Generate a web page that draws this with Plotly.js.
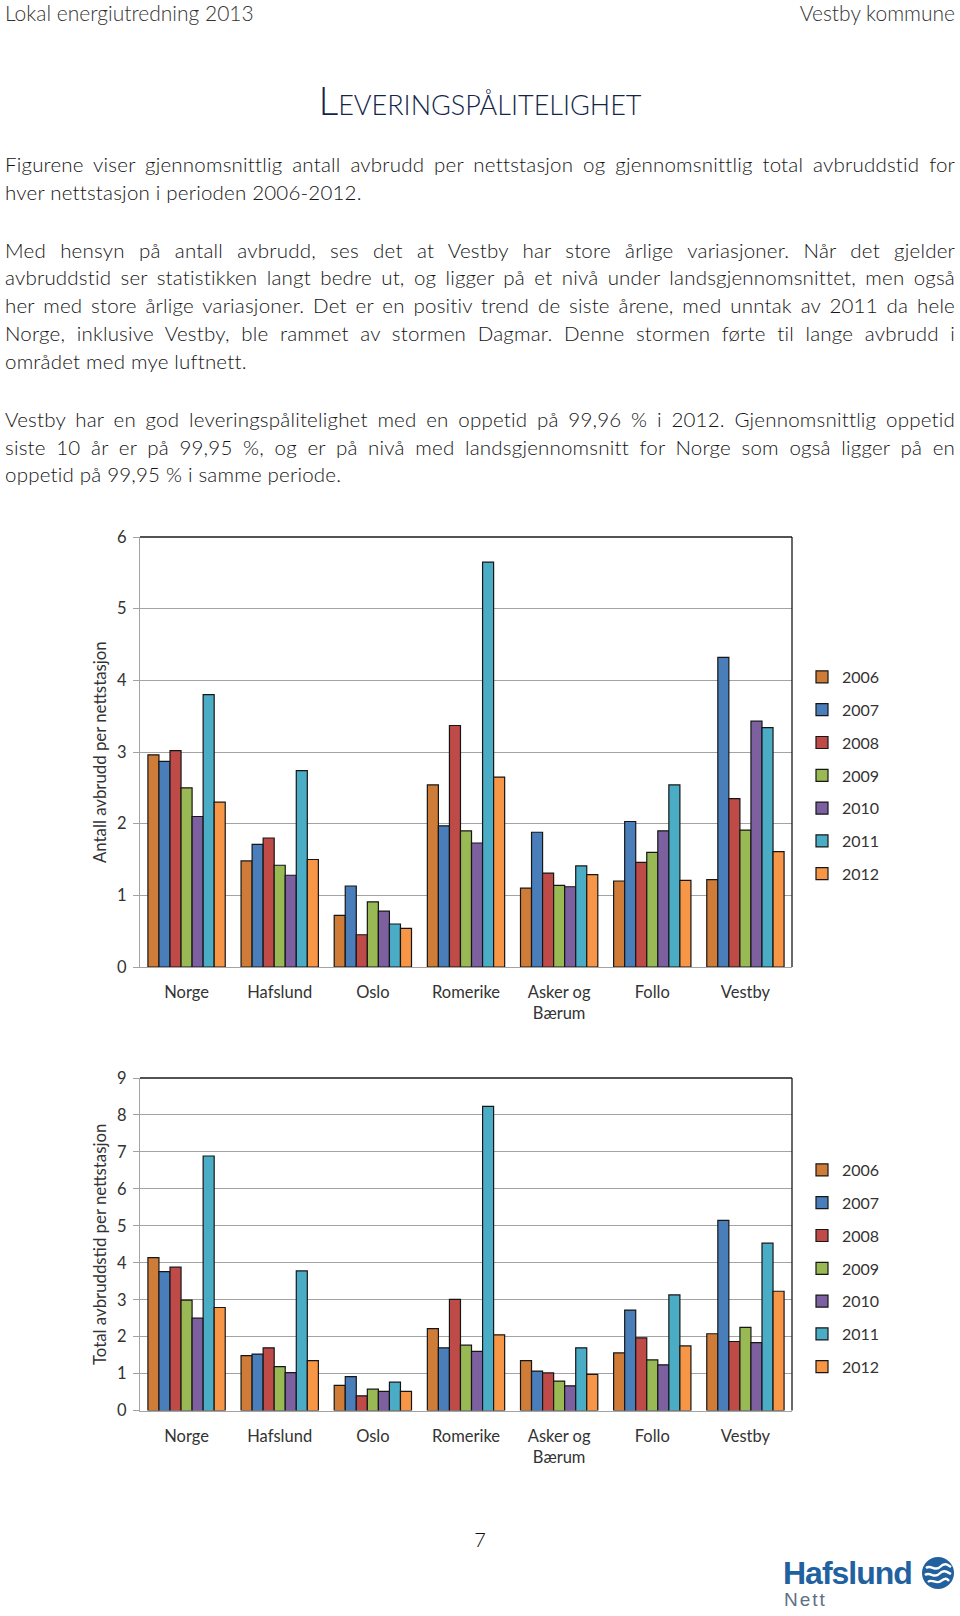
<!DOCTYPE html>
<html><head><meta charset="utf-8">
<script src="https://cdn.plot.ly/plotly-3.0.1.min.js"></script>
<style>
html,body{margin:0;padding:0;background:#fff;}
body{width:960px;height:1616px;position:relative;overflow:hidden;font-family:Lato,"Open Sans",sans-serif;color:#141414;}
#plot{position:absolute;left:0;top:0;width:960px;height:1616px;}
.abs{position:absolute;}
.hdr{top:0;font-size:21px;line-height:25px;color:#333;font-weight:300;}
.title{left:0;width:960px;top:77px;text-align:center;font-size:39px;line-height:46px;font-variant:small-caps;color:#14254a;font-weight:300;}
.para{left:5px;width:950px;font-size:20.5px;line-height:27.8px;letter-spacing:0.2px;font-weight:300;}
.j{text-align:justify;text-align-last:justify;white-space:nowrap;}
.pg{left:0;width:960px;text-align:center;top:1526px;font-size:20px;line-height:26px;color:#141414;font-weight:300;}
.logo{left:783px;top:1555px;font-family:"Liberation Sans",Arial,sans-serif;font-weight:bold;font-size:32px;line-height:36px;color:#22619f;letter-spacing:-1px;}
.nett{left:784px;top:1589px;font-family:"Liberation Sans",Arial,sans-serif;font-size:19px;line-height:22px;color:#5d7087;letter-spacing:2px;}
</style>
</head>
<body>
<div id="plot"></div>
<div class="abs hdr" style="left:5px;">Lokal energiutredning 2013</div>
<div class="abs hdr" style="right:5px;">Vestby kommune</div>
<div class="abs title">Leveringspålitelighet</div>

<div class="abs para" style="top:151px;">
<div class="j">Figurene viser gjennomsnittlig antall avbrudd per nettstasjon og gjennomsnittlig total avbruddstid for</div>
<div>hver nettstasjon i perioden 2006-2012.</div>
</div>
<div class="abs para" style="top:236.7px;">
<div class="j">Med hensyn på antall avbrudd, ses det at Vestby har store årlige variasjoner. Når det gjelder</div>
<div class="j">avbruddstid ser statistikken langt bedre ut, og ligger på et nivå under landsgjennomsnittet, men også</div>
<div class="j">her med store årlige variasjoner. Det er en positiv trend de siste årene, med unntak av 2011 da hele</div>
<div class="j">Norge, inklusive Vestby, ble rammet av stormen Dagmar. Denne stormen førte til lange avbrudd i</div>
<div>området med mye luftnett.</div>
</div>
<div class="abs para" style="top:405.8px;">
<div class="j">Vestby har en god leveringspålitelighet med en oppetid på 99,96 % i 2012. Gjennomsnittlig oppetid</div>
<div class="j">siste 10 år er på 99,95 %, og er på nivå med landsgjennomsnitt for Norge som også ligger på en</div>
<div>oppetid på 99,95 % i samme periode.</div>
</div>

<div class="abs pg">7</div>
<div class="abs logo">Hafslund</div>
<div class="abs nett">Nett</div>
<svg class="abs" style="left:921px;top:1556px;" width="34" height="34" viewBox="0 0 34 34">
<circle cx="17" cy="17" r="16" fill="#22619f"/>
<path d="M5 12 C10 8,14 16,19 11 S27 9,30 11" stroke="#fff" stroke-width="2.4" fill="none"/>
<path d="M4 19 C9 15,13 23,18 18 S26 16,30 18" stroke="#fff" stroke-width="2.4" fill="none"/>
<path d="M7 26 C11 22,15 29,20 25 S26 23,28 25" stroke="#fff" stroke-width="2.4" fill="none"/>
</svg>

<script>
// ---- data ----
const categories = ['Norge', 'Hafslund', 'Oslo', 'Romerike', 'Asker og<br>Bærum', 'Follo', 'Vestby'];
const years = ['2006', '2007', '2008', '2009', '2010', '2011', '2012'];
const yearColors = ['#cf7c38', '#4a7ebb', '#be4b48', '#98b954', '#7d60a0', '#4bacc6', '#f79646'];

// Antall avbrudd per nettstasjon
const antall2006 = [2.96, 1.48, 0.72, 2.54, 1.10, 1.20, 1.22];
const antall2007 = [2.87, 1.71, 1.13, 1.97, 1.88, 2.03, 4.32];
const antall2008 = [3.02, 1.80, 0.45, 3.37, 1.31, 1.46, 2.35];
const antall2009 = [2.50, 1.42, 0.91, 1.90, 1.14, 1.60, 1.91];
const antall2010 = [2.10, 1.28, 0.78, 1.73, 1.12, 1.90, 3.43];
const antall2011 = [3.80, 2.74, 0.60, 5.65, 1.41, 2.54, 3.34];
const antall2012 = [2.30, 1.50, 0.54, 2.65, 1.29, 1.21, 1.61];

// Total avbruddstid per nettstasjon
const tid2006 = [4.14, 1.49, 0.68, 2.22, 1.35, 1.56, 2.08];
const tid2007 = [3.76, 1.53, 0.92, 1.70, 1.07, 2.72, 5.15];
const tid2008 = [3.88, 1.70, 0.40, 3.01, 1.02, 1.97, 1.87];
const tid2009 = [2.99, 1.19, 0.58, 1.77, 0.80, 1.37, 2.25];
const tid2010 = [2.50, 1.03, 0.52, 1.60, 0.67, 1.24, 1.84];
const tid2011 = [6.89, 3.78, 0.77, 8.23, 1.70, 3.13, 4.53];
const tid2012 = [2.79, 1.35, 0.52, 2.05, 0.98, 1.75, 3.23];

const antallSeries = [antall2006, antall2007, antall2008, antall2009, antall2010, antall2011, antall2012];
const tidSeries = [tid2006, tid2007, tid2008, tid2009, tid2010, tid2011, tid2012];

// ---- figure ----
const W = 960, H = 1616;
const px = v => v / W;
const py = v => 1 - v / H;
const FONT = 'Lato, "Open Sans", sans-serif';
const TXT = '#333333';
const GRID = '#a3a3a3';

const traces = [];
years.forEach((yr, i) => {
  traces.push({
    type: 'bar', name: yr, x: categories, y: antallSeries[i],
    xaxis: 'x', yaxis: 'y', legend: 'legend', legendgroup: 'a' + yr,
    marker: {color: yearColors[i], line: {color: '#161616', width: 1.2}},
    hoverinfo: 'x+y+name'
  });
});
years.forEach((yr, i) => {
  traces.push({
    type: 'bar', name: yr, x: categories, y: tidSeries[i],
    xaxis: 'x2', yaxis: 'y2', legend: 'legend2', legendgroup: 't' + yr,
    marker: {color: yearColors[i], line: {color: '#161616', width: 1.2}},
    hoverinfo: 'x+y+name'
  });
});

const xCommon = {
  type: 'category', domain: [px(140), px(792)], showline: true, linecolor: GRID, linewidth: 1.3,
  ticks: '', showgrid: false, zeroline: false, ticklabelstandoff: 10,
  tickfont: {family: FONT, size: 16.5, color: TXT}, fixedrange: true
};
const yCommon = {
  showline: true, linecolor: GRID, linewidth: 1.3, ticks: 'outside', ticklen: 6, tickcolor: GRID, tickwidth: 1.3,
  showgrid: true, gridcolor: GRID, gridwidth: 1.3, zeroline: false, dtick: 1, ticklabelstandoff: 3,
  tickfont: {family: FONT, size: 16.5, color: TXT}, fixedrange: true
};
const legendCommon = {
  xanchor: 'left', yanchor: 'top', x: px(802), bgcolor: 'rgba(0,0,0,0)', borderwidth: 0,
  font: {family: FONT, size: 16, color: TXT}, tracegroupgap: 9, traceorder: 'grouped', itemclick: false, itemdoubleclick: false
};
const borderLine = (xr, yr, x0, x1, y0, y1) => ({type: 'line', xref: xr, yref: yr, x0, x1, y0, y1, line: {color: '#1a1a1a', width: 1.3}});

const layout = {
  width: W, height: H, autosize: false,
  margin: {l: 0, r: 0, t: 0, b: 0, pad: 0},
  paper_bgcolor: 'rgba(0,0,0,0)', plot_bgcolor: '#fff',
  font: {family: FONT, color: TXT},
  barmode: 'group', bargap: 0.17, bargroupgap: 0,
  xaxis: Object.assign({}, xCommon, {anchor: 'y'}),
  yaxis: Object.assign({}, yCommon, {anchor: 'x', domain: [py(967), py(537)], range: [0, 6]}),
  xaxis2: Object.assign({}, xCommon, {anchor: 'y2'}),
  yaxis2: Object.assign({}, yCommon, {anchor: 'x2', domain: [py(1410.6), py(1078)], range: [0, 9]}),
  legend: Object.assign({}, legendCommon, {y: py(660)}),
  legend2: Object.assign({}, legendCommon, {y: py(1153)}),
  shapes: [
    borderLine('x domain', 'y domain', 0, 1, 1, 1),
    borderLine('x domain', 'y domain', 1, 1, 0, 1),
    borderLine('x2 domain', 'y2 domain', 0, 1, 1, 1),
    borderLine('x2 domain', 'y2 domain', 1, 1, 0, 1)
  ],
  annotations: [
    {text: 'Antall avbrudd per nettstasjon', xref: 'paper', yref: 'paper', x: px(99), y: py(752),
     textangle: -90, showarrow: false, xanchor: 'center', yanchor: 'middle', font: {family: FONT, size: 16.8, color: TXT}},
    {text: 'Total avbruddstid per nettstasjon', xref: 'paper', yref: 'paper', x: px(99), y: py(1245),
     textangle: -90, showarrow: false, xanchor: 'center', yanchor: 'middle', font: {family: FONT, size: 16.8, color: TXT}}
  ],
  showlegend: true
};

Plotly.newPlot('plot', traces, layout, {displayModeBar: false, staticPlot: false, responsive: false});
</script>
</body></html>
